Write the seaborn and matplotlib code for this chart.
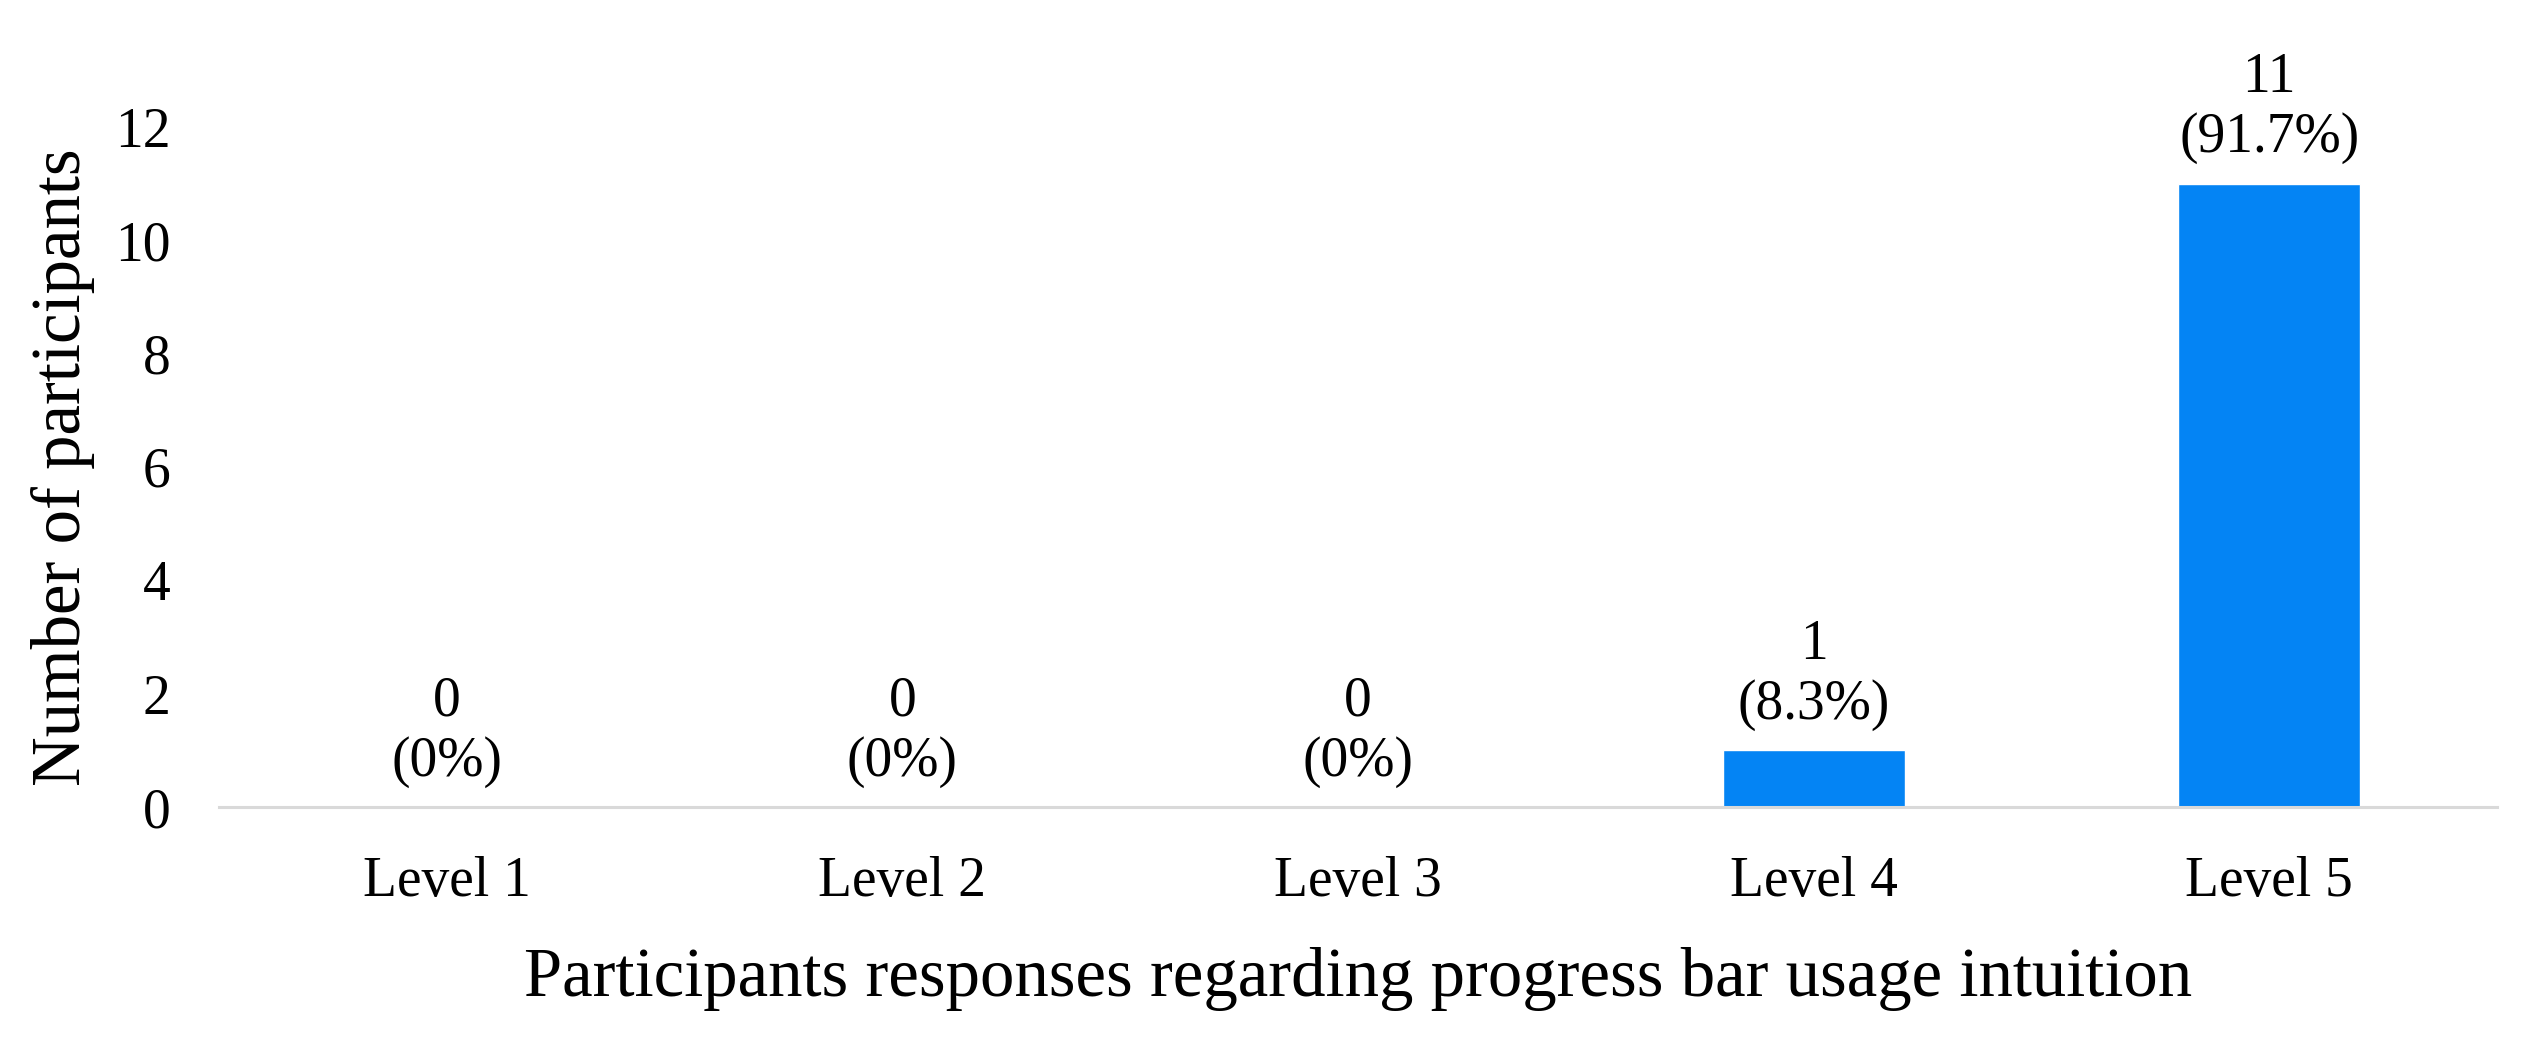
import matplotlib
matplotlib.use("Agg")
import matplotlib.pyplot as plt
import pandas as pd
import seaborn as sns

levels = ["Level 1", "Level 2", "Level 3", "Level 4", "Level 5"]
counts = [0, 0, 0, 1, 11]
percents = ["0%", "0%", "0%", "8.3%", "91.7%"]
y_ticks = [0, 2, 4, 6, 8, 10, 12]

df = pd.DataFrame({"level": levels, "count": counts})

sns.set_theme(style="white")
plt.rcParams['font.family'] = ['Liberation Serif', 'DejaVu Serif']

fig = plt.figure(figsize=(25.33, 10.4), dpi=100)
ax = fig.add_axes([0.0865, 0.224, 0.8993, 0.654])

sns.barplot(data=df, x="level", y="count", color="#0484f4", width=0.4,
            saturation=1, ax=ax)

# labels above the bars
for i, (c, p) in enumerate(zip(counts, percents)):
    ax.annotate(f"{c}\n({p})", xy=(i, c), xytext=(0, 14), textcoords="offset points",
                ha="center", va="bottom", fontsize=40, color="black",
                linespacing=1.2, annotation_clip=False)

ax.set_ylim(0, 12)
ax.set_yticks(y_ticks)
ax.set_xlim(-0.5, len(levels) - 0.5)

for s in ["top", "right", "left"]:
    ax.spines[s].set_visible(False)
ax.spines["bottom"].set_color("#d9d9d9")
ax.spines["bottom"].set_linewidth(2.2)

ax.tick_params(axis="y", length=0, pad=35, labelsize=40, labelcolor="black")
ax.tick_params(axis="x", length=0, pad=35, labelsize=40, labelcolor="black")

ax.set_xlabel("Participants responses regarding progress bar usage intuition",
              fontsize=49.5, color="black", labelpad=28)
ax.set_ylabel("Number of participants", fontsize=49.5, color="black", labelpad=14)

fig.savefig("out.png", dpi=100)
